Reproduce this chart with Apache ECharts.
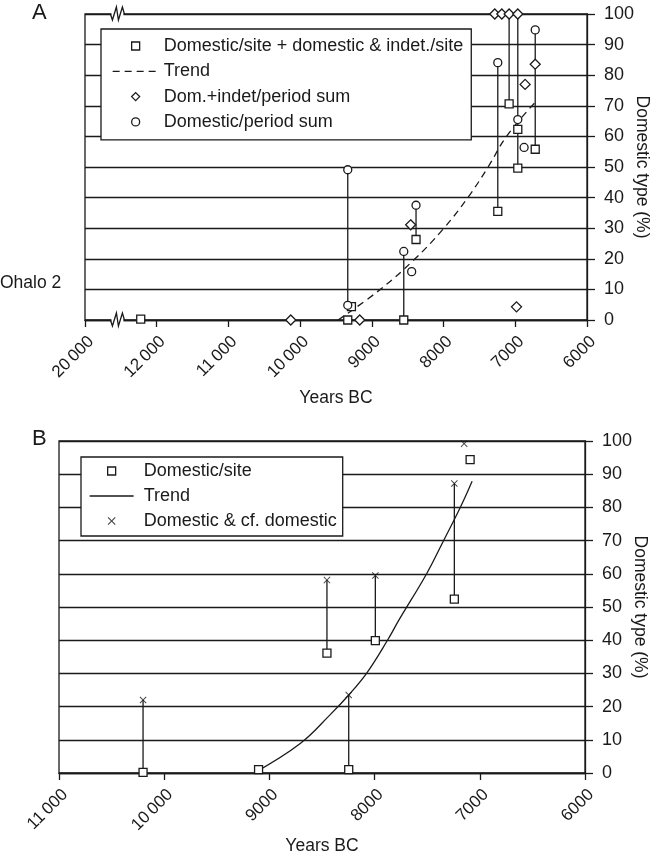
<!DOCTYPE html>
<html>
<head>
<meta charset="utf-8">
<script src="https://cdn.jsdelivr.net/npm/echarts@6.0.0/dist/echarts.min.js"></script>
<style>
html,body{margin:0;padding:0;background:#fff;}
#a{position:absolute;left:0;top:0;width:652px;height:410px;}
#b{position:absolute;left:0;top:410px;width:652px;height:443px;}
</style>
</head>
<body>
<div id="a"></div>
<div id="b"></div>
<script>
// ---------- Panel A data ----------
const tickLabelsA = ['6000', '7000', '8000', '9000', '10\u2009000', '11\u2009000', '12\u2009000', '20\u2009000'];
// Domestic/site + domestic & indet./site  [year BC, %]
const siteA = [[12223, 0.3], [9336, 0], [9285, 4.4], [8555, 0], [8384, 26.3], [7244, 35.5], [7086, 70.6], [6965, 62.3], [6965, 49.6], [6722, 55.8]];
// Dom.+indet/period sum
const domIndetA = [[10131, 0], [9169, 0], [8459, 31.1], [7286, 100], [7188, 100], [7086, 100], [6965, 100], [6983, 4.3], [6863, 77.0], [6722, 83.6]];
// Domestic/period sum
const domPeriodA = [[9336, 49.1], [9336, 4.8], [8555, 22.4], [8445, 15.8], [8384, 37.5], [7244, 84.1], [6965, 65.5], [6877, 56.4], [6722, 94.8]];
// Trend (dashed)
const trendA = [[9471, 0], [8904, 9.6], [8425, 19.4], [8010, 29.6], [7662, 40], [7379, 50], [7123, 60], [6728, 71]];
// vertical connectors [year, low, high]
const stemsA = [[9336, 4.8, 49.1], [8555, 0, 22.4], [8384, 26.3, 37.5], [7244, 35.5, 84.1], [7086, 70.6, 100], [6965, 49.6, 100], [6722, 55.8, 94.8]];
// axis break positions
const breaksA = [[12548, 0], [12548, 100]];

// ---------- Panel B data ----------
const tickLabelsB = ['6000', '7000', '8000', '9000', '10\u2009000', '11\u2009000'];
const siteB = [[10201, 0.2], [9103, 1.0], [8246, 1.0], [8453, 36.1], [7993, 39.9], [7242, 52.4], [7092, 94.4]];
const cfDomB = [[10201, 22.0], [8246, 23.5], [8453, 58.1], [7993, 59.5], [7242, 87.2], [7149, 99.2]];
const trendB = [[9135, 0.2], [8710, 8.8], [8424, 17.5], [8246, 23.5], [8075, 30.1], [7879, 39.9], [7768, 46.1], [7504, 60.1], [7346, 69.9], [7187, 79.9], [7073, 87.9]];
const stemsB = [[10201, 0.2, 22.0], [8246, 1.0, 23.5], [8453, 36.1, 58.1], [7993, 39.9, 59.5], [7242, 52.4, 87.2]];

// ---------- styling ----------
const FONT = '"Liberation Sans", Arial, Helvetica, sans-serif';
const INK = '#1a1a1a';
const LW = 1.3;
const CROSS = 'path://M0,1 L1,0 L5,4 L9,0 L10,1 L6,5 L10,9 L9,10 L5,6 L1,10 L0,9 L4,5 Z';
const ICON_RECT = 'path://M0,0 L10,0 L10,10 L0,10 Z';
const ICON_DIAMOND = 'path://M5,0 L10,5 L5,10 L0,5 Z';

function txt(size) { return { fontSize: size, color: INK, fontFamily: FONT, fontWeight: 'normal' }; }

function stemSeries(data) {
  return {
    type: 'custom', silent: true, z: 2, clip: false,
    encode: { x: 0, y: [1, 2] },
    data: data,
    renderItem: function (params, api) {
      const p1 = api.coord([api.value(0), api.value(1)]);
      const p2 = api.coord([api.value(0), api.value(2)]);
      return { type: 'line', shape: { x1: p1[0], y1: p1[1], x2: p2[0], y2: p2[1] }, style: { stroke: INK, lineWidth: LW } };
    }
  };
}

function breakSeries(data) {
  return {
    type: 'custom', silent: true, z: 5, clip: false,
    encode: { x: 0, y: 1 },
    data: data,
    renderItem: function (params, api) {
      const c = api.coord([api.value(0), api.value(1)]);
      const x = c[0], y = c[1];
      return {
        type: 'group', children: [
          { type: 'rect', shape: { x: x - 6, y: y - 2, width: 12, height: 4 }, style: { fill: '#fff' } },
          { type: 'polyline', shape: { points: [[x - 7, y], [x - 5, y + 6], [x - 1, y - 7], [x + 1, y + 6], [x + 5, y - 7], [x + 7, y]] }, style: { stroke: INK, fill: null, lineWidth: LW } }
        ]
      };
    }
  };
}

function scatter(name, data, symbol, size) {
  return {
    name: name, type: 'scatter', data: data, symbol: symbol, symbolSize: size, symbolKeepAspect: true, z: 4,
    itemStyle: { color: '#fff', borderColor: INK, borderWidth: LW, opacity: 1 }
  };
}

function axes(cfg) {
  return {
    xAxis: {
      type: 'value', min: 6000, max: cfg.xmax, interval: 1000, inverse: true,
      name: 'Years BC', nameLocation: 'middle', nameGap: cfg.xNameGap, nameMoveOverlap: false,
      nameTextStyle: txt(17.5),
      axisLine: { show: true, lineStyle: { color: INK, width: LW } },
      axisTick: { show: true, inside: false, length: 7, lineStyle: { color: INK, width: LW } },
      axisLabel: Object.assign({ rotate: 45, margin: 13, verticalAlign: 'top', hideOverlap: false, showMinLabel: true, showMaxLabel: true,
        formatter: function (v) { return cfg.labels[Math.round((v - 6000) / 1000)]; } }, txt(17)),
      splitLine: { show: false }
    },
    yAxis: {
      type: 'value', min: 0, max: 100, interval: 10, position: 'right',
      name: 'Domestic type (%)', nameLocation: 'middle', nameRotate: -90, nameGap: 46, nameMoveOverlap: false,
      nameTextStyle: txt(17.5),
      axisLine: { show: true, lineStyle: { color: INK, width: LW } },
      axisTick: { show: true, inside: false, length: 8, lineStyle: { color: INK, width: LW } },
      axisLabel: Object.assign({ margin: 17, showMinLabel: true, showMaxLabel: true }, txt(18)),
      splitLine: { show: true, lineStyle: { color: INK, width: LW } }
    }
  };
}

// ---------- Chart A ----------
const axA = axes({ xmax: 13000, labels: tickLabelsA, xNameGap: 69 });
const optA = {
  animation: false,
  backgroundColor: '#fff',
  title: [
    { text: 'A', left: 32, top: 2, padding: 0, textStyle: txt(22) },
    { text: 'Ohalo 2', left: 0, top: 274, padding: 0, textStyle: txt(17.5) }
  ],
  grid: { left: 85, right: 65, top: 14, height: 306, show: true, borderColor: INK, borderWidth: LW, backgroundColor: 'transparent', containLabel: false, outerBoundsMode: 'none' },
  xAxis: axA.xAxis,
  yAxis: axA.yAxis,
  legend: {
    orient: 'vertical', left: 101, top: 29,
    selectedMode: false,
    backgroundColor: '#fff', borderColor: INK, borderWidth: LW, borderRadius: 0,
    padding: [8, 8, 9, 11], itemGap: 7.3, itemWidth: 46, itemHeight: 8,
    textStyle: txt(18),
    lineStyle: { width: LW },
    itemStyle: { borderWidth: LW },
    data: [
      { name: 'Domestic/site + domestic & indet./site', icon: ICON_RECT },
      { name: 'Trend', itemStyle: { color: 'rgba(0,0,0,0)', borderColor: 'rgba(0,0,0,0)', borderWidth: 0 } },
      { name: 'Dom.+indet/period sum', icon: ICON_DIAMOND },
      { name: 'Domestic/period sum' }
    ]
  },
  series: [
    stemSeries(stemsA),
    {
      name: 'Trend', type: 'line', data: trendA, smooth: 0.4, symbol: 'none', showSymbol: false, z: 3,
      lineStyle: { color: INK, width: LW, type: [7, 5] }, itemStyle: { color: INK }
    },
    scatter('Domestic/site + domestic & indet./site', siteA, 'rect', 8),
    scatter('Dom.+indet/period sum', domIndetA, 'diamond', 10),
    scatter('Domestic/period sum', domPeriodA, 'circle', 8),
    breakSeries(breaksA)
  ]
};

// ---------- Chart B ----------
const axB = axes({ xmax: 11000, labels: tickLabelsB, xNameGap: 64 });
const optB = {
  animation: false,
  backgroundColor: '#fff',
  title: [
    { text: 'B', left: 32, top: 18, padding: 0, textStyle: txt(22) }
  ],
  grid: { left: 59, right: 67, top: 31, height: 332, show: true, borderColor: INK, borderWidth: LW, backgroundColor: 'transparent', containLabel: false, outerBoundsMode: 'none' },
  xAxis: axB.xAxis,
  yAxis: axB.yAxis,
  legend: {
    orient: 'vertical', left: 81, top: 47,
    selectedMode: false,
    backgroundColor: '#fff', borderColor: INK, borderWidth: LW, borderRadius: 0,
    padding: [5, 6, 6, 8], itemGap: 7, itemWidth: 44, itemHeight: 8,
    textStyle: Object.assign({ padding: [0, 0, 0, 5] }, txt(18)),
    lineStyle: { width: LW },
    itemStyle: { borderWidth: LW },
    data: [
      { name: 'Domestic/site', icon: ICON_RECT },
      { name: 'Trend', itemStyle: { color: 'rgba(0,0,0,0)', borderColor: 'rgba(0,0,0,0)', borderWidth: 0 } },
      { name: 'Domestic & cf. domestic', itemStyle: { borderWidth: 0 } }
    ]
  },
  series: [
    stemSeries(stemsB),
    {
      name: 'Trend', type: 'line', data: trendB, smooth: 0.4, symbol: 'none', showSymbol: false, z: 3,
      lineStyle: { color: INK, width: LW, type: 'solid' }, itemStyle: { color: INK }
    },
    scatter('Domestic/site', siteB, 'rect', 8),
    {
      name: 'Domestic & cf. domestic', type: 'scatter', data: cfDomB, symbol: CROSS, symbolSize: 7, symbolKeepAspect: true, z: 4,
      itemStyle: { color: INK, borderWidth: 0 }
    }
  ]
};

const chartA = echarts.init(document.getElementById('a'), null, { renderer: 'canvas' });
chartA.setOption(optA);
const chartB = echarts.init(document.getElementById('b'), null, { renderer: 'canvas' });
chartB.setOption(optB);
</script>
</body>
</html>
